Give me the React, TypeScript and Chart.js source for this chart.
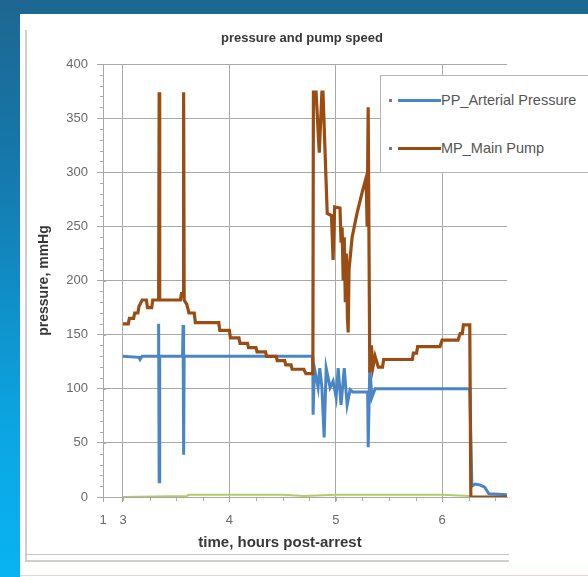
import React, { useEffect, useRef } from 'react';
import { Chart, registerables } from 'chart.js';

Chart.register(...registerables);

// ---------- text ----------
const CHART_TITLE = 'pressure and pump speed';
const X_TITLE = 'time, hours post-arrest';
const Y_TITLE = 'pressure, mmHg';

// ---------- axes ----------
const X_MIN = 2.812;
const X_MAX = 6.61;
const X_TICK_VALUES = [2.812, 3, 4, 5, 6];
const X_TICK_LABELS = ['1', '3', '4', '5', '6'];
const X_MINOR_FROM = 3;
const X_MINOR_TO = 6.5;
const X_MINOR_STEP = 0.25;
const Y_MIN = 0;
const Y_MAX = 400;
const Y_STEP = 50;
const Y_MINOR_STEP = 10;

// ---------- series: PP_Arterial Pressure ----------
const PP_LABEL = 'PP_Arterial Pressure';
const PP_TIME = [
  3.0, 3.15, 3.16, 3.18, 3.33, 3.335, 3.34, 3.345, 3.56, 3.565, 3.57, 3.575,
  4.78, 4.785, 4.787, 4.8, 4.834, 4.85, 4.87, 4.891, 4.91, 4.947, 4.975, 5.004,
  5.023, 5.05, 5.08, 5.107, 5.135, 5.16, 5.3, 5.305, 5.32, 5.34, 5.37, 6.26,
  6.28, 6.31, 6.36, 6.4, 6.44, 6.61,
];
const PP_VALUES = [
  130, 129, 127, 130, 130, 160, 14, 130, 130, 159, 39, 130,
  130, 117, 76, 119, 101, 119, 101, 55, 119, 101, 107, 92,
  119, 85, 119, 85, 99, 97, 97, 46, 120, 92, 100, 100,
  10, 12, 11, 9, 3, 2,
];

// ---------- series: MP_Main Pump ----------
const MP_LABEL = 'MP_Main Pump';
const MP_TIME = [
  3.0, 3.05, 3.06, 3.1, 3.11, 3.14, 3.15, 3.18, 3.22, 3.23, 3.27, 3.28,
  3.335, 3.34, 3.345, 3.54, 3.55, 3.565, 3.57, 3.575, 3.6, 3.62, 3.67, 3.68,
  3.9, 3.91, 4.0, 4.01, 4.09, 4.1, 4.17, 4.18, 4.25, 4.26, 4.34, 4.35,
  4.44, 4.45, 4.52, 4.53, 4.58, 4.59, 4.7, 4.72, 4.785, 4.79, 4.815, 4.845,
  4.87, 4.88, 4.92, 4.96, 4.975, 4.99, 5.04, 5.05, 5.06, 5.07, 5.08, 5.09,
  5.1, 5.11, 5.117, 5.125, 5.154, 5.2, 5.25, 5.286, 5.295, 5.305, 5.32, 5.335,
  5.35, 5.37, 5.4, 5.44, 5.45, 5.72, 5.73, 5.76, 5.77, 5.98, 6.0, 6.15,
  6.17, 6.19, 6.2, 6.26, 6.27, 6.61,
];
const MP_VALUES = [
  160, 160, 165, 165, 170, 170, 176, 182, 182, 175, 175, 182,
  182, 374, 182, 182, 188, 188, 374, 182, 178, 170, 170, 161,
  161, 154, 154, 147, 147, 142, 142, 138, 138, 134, 134, 130,
  130, 126, 126, 122, 122, 118, 118, 114, 114, 374, 374, 318,
  374, 374, 262, 260, 219, 268, 267, 235, 249, 200, 240, 180,
  225, 165, 152, 210, 240, 262, 282, 295, 250, 360, 115, 140,
  120, 130, 120, 120, 127, 127, 133, 133, 139, 139, 145, 145,
  151, 151, 159, 159, 0, 0,
];

// ---------- series: third (baseline) trace ----------
const BASE_LABEL = 'Series 3';
const BASE_TIME = [3.0, 3.6, 3.62, 4.5, 4.7, 5.0, 6.0, 6.26];
const BASE_VALUES = [0, 1, 2, 2, 1, 2, 2, 1];

// ---------- style ----------
const PP_COLOR = '#4a86c5';
const MP_COLOR = '#9a4c12';
const BASE_COLOR = '#b3cc6a';
const GRID_COLOR = '#a9a9a9';
const TICK_COLOR = '#6a6a6a';
const TITLE_COLOR = '#383838';
const FONT = '"Liberation Sans", Arial, sans-serif';

const zip = (xs: number[], ys: number[]) => xs.map((x, i) => ({ x, y: ys[i] }));

const minorTicks = {
  id: 'minorTicks',
  afterDraw(chart: any) {
    const { ctx, chartArea } = chart;
    const xs = chart.scales.x;
    const ys = chart.scales.y;
    ctx.save();
    ctx.strokeStyle = GRID_COLOR;
    ctx.lineWidth = 1;
    ctx.beginPath();
    for (let v = Y_MIN; v <= Y_MAX + 1e-9; v += Y_MINOR_STEP) {
      const py = Math.round(ys.getPixelForValue(v)) + 0.5;
      if (Math.abs(v % Y_STEP) < 1e-9) {
        ctx.moveTo(chartArea.left, py);
        ctx.lineTo(chartArea.left + 3, py);
      } else {
        ctx.moveTo(chartArea.left - 3, py);
        ctx.lineTo(chartArea.left + 1, py);
      }
    }
    for (let t = X_MINOR_FROM; t <= X_MINOR_TO + 1e-9; t += X_MINOR_STEP) {
      const px = Math.round(xs.getPixelForValue(t)) + 0.5;
      ctx.moveTo(px, chartArea.bottom);
      ctx.lineTo(px, chartArea.bottom + 4);
    }
    ctx.stroke();
    ctx.restore();
  },
};

export default function App() {
  const canvasRef = useRef<HTMLCanvasElement>(null);

  useEffect(() => {
    const canvas = canvasRef.current;
    if (!canvas) return;
    const chart = new Chart(canvas, {
      type: 'line',
      data: {
        datasets: [
          {
            label: MP_LABEL,
            data: zip(MP_TIME, MP_VALUES),
            borderColor: MP_COLOR,
            backgroundColor: MP_COLOR,
            borderWidth: 3.2,
            pointRadius: 0,
            tension: 0,
            order: 0,
          },
          {
            label: PP_LABEL,
            data: zip(PP_TIME, PP_VALUES),
            borderColor: PP_COLOR,
            backgroundColor: PP_COLOR,
            borderWidth: 3,
            pointRadius: 0,
            tension: 0,
            order: 1,
          },
          {
            label: BASE_LABEL,
            data: zip(BASE_TIME, BASE_VALUES),
            borderColor: BASE_COLOR,
            backgroundColor: BASE_COLOR,
            borderWidth: 2,
            pointRadius: 0,
            tension: 0,
            order: 2,
          },
        ],
      },
      options: {
        responsive: false,
        animation: false,
        layout: { padding: { top: 64, right: 81, left: 0, bottom: 0 } },
        plugins: {
          legend: { display: false },
          title: { display: false },
          tooltip: { enabled: false },
        },
        scales: {
          x: {
            type: 'linear',
            min: X_MIN,
            max: X_MAX,
            afterFit: (s: any) => {
              s.height = 80;
            },
            afterBuildTicks: (s: any) => {
              s.ticks = X_TICK_VALUES.map((value) => ({ value }));
            },
            grid: {
              color: GRID_COLOR,
              lineWidth: 1,
              tickLength: 5,
              drawOnChartArea: true,
            },
            border: { display: true, color: GRID_COLOR, width: 1 },
            ticks: {
              color: TICK_COLOR,
              font: { family: FONT, size: 13 },
              padding: 11,
              maxRotation: 0,
              autoSkip: false,
              callback: (value: any) => {
                const i = X_TICK_VALUES.findIndex((v) => Math.abs(v - Number(value)) < 1e-6);
                return i >= 0 ? X_TICK_LABELS[i] : '';
              },
            },
          },
          y: {
            type: 'linear',
            min: Y_MIN,
            max: Y_MAX,
            afterFit: (s: any) => {
              s.width = 103;
            },
            grid: { color: GRID_COLOR, lineWidth: 1, tickLength: 6 },
            border: { display: true, color: GRID_COLOR, width: 1 },
            ticks: {
              stepSize: Y_STEP,
              color: TICK_COLOR,
              font: { family: FONT, size: 13 },
              padding: 9,
            },
            title: {
              display: true,
              text: Y_TITLE,
              color: TITLE_COLOR,
              font: { family: FONT, size: 14, weight: 'bold' },
              padding: { top: 36, bottom: 0 },
            },
          },
        },
      },
      plugins: [minorTicks],
    });
    return () => chart.destroy();
  }, []);

  const legendItems = [
    { label: PP_LABEL, color: PP_COLOR, cy: 100 },
    { label: MP_LABEL, color: MP_COLOR, cy: 148 },
  ];

  return (
    <div
      style={{
        position: 'absolute',
        left: 0,
        top: 0,
        width: 588,
        height: 577,
        overflow: 'hidden',
        background: 'linear-gradient(to bottom, #1d6791 0%, #1579ad 30%, #0ba6e3 75%, #09b3f1 100%)',
        fontFamily: FONT,
      }}
    >
      {/* white slide panel */}
      <div style={{ position: 'absolute', left: 20, top: 14, right: 0, bottom: 0, background: '#ffffff' }} />
      <div style={{ position: 'absolute', left: 20, top: 575, right: 0, height: 1, background: '#f1cfcf' }} />
      {/* chart frame lines */}
      <div style={{ position: 'absolute', left: 25, top: 30, width: 2, height: 531, background: '#cfcfcf' }} />
      <div style={{ position: 'absolute', left: 25, top: 554, width: 484, height: 1, background: '#c4c4c4' }} />
      <div style={{ position: 'absolute', left: 25, top: 560, width: 484, height: 2, background: '#cfcfcf' }} />

      <canvas
        ref={canvasRef}
        width={588}
        height={577}
        style={{ position: 'absolute', left: 0, top: 0, width: 588, height: 577, display: 'block' }}
      />

      {/* chart title */}
      <div
        style={{
          position: 'absolute',
          left: 0,
          width: 604,
          top: 30,
          lineHeight: '16px',
          textAlign: 'center',
          fontWeight: 'bold',
          fontSize: 13,
          color: TITLE_COLOR,
          whiteSpace: 'nowrap',
        }}
      >
        {CHART_TITLE}
      </div>

      {/* x-axis title */}
      <div
        style={{
          position: 'absolute',
          left: 0,
          width: 560,
          top: 533,
          lineHeight: '18px',
          textAlign: 'center',
          fontWeight: 'bold',
          fontSize: 15,
          color: TITLE_COLOR,
          whiteSpace: 'nowrap',
        }}
      >
        {X_TITLE}
      </div>

      {/* legend */}
      <div
        style={{
          position: 'absolute',
          left: 380,
          top: 75,
          width: 240,
          height: 96,
          background: '#ffffff',
          border: '1px solid #b5b5b5',
        }}
      >
        {legendItems.map((it) => (
          <div key={it.label}>
            <div
              style={{
                position: 'absolute',
                left: 8,
                top: it.cy - 75 - 2,
                width: 3,
                height: 3,
                background: '#7a7a7a',
              }}
            />
            <div
              style={{
                position: 'absolute',
                left: 17,
                top: it.cy - 75 - 2,
                width: 43,
                height: 3,
                background: it.color,
              }}
            />
            <div
              style={{
                position: 'absolute',
                left: 60,
                top: it.cy - 75 - 10,
                lineHeight: '18px',
                fontSize: 14.5,
                color: '#555555',
                whiteSpace: 'nowrap',
              }}
            >
              {it.label}
            </div>
          </div>
        ))}
      </div>
    </div>
  );
}
